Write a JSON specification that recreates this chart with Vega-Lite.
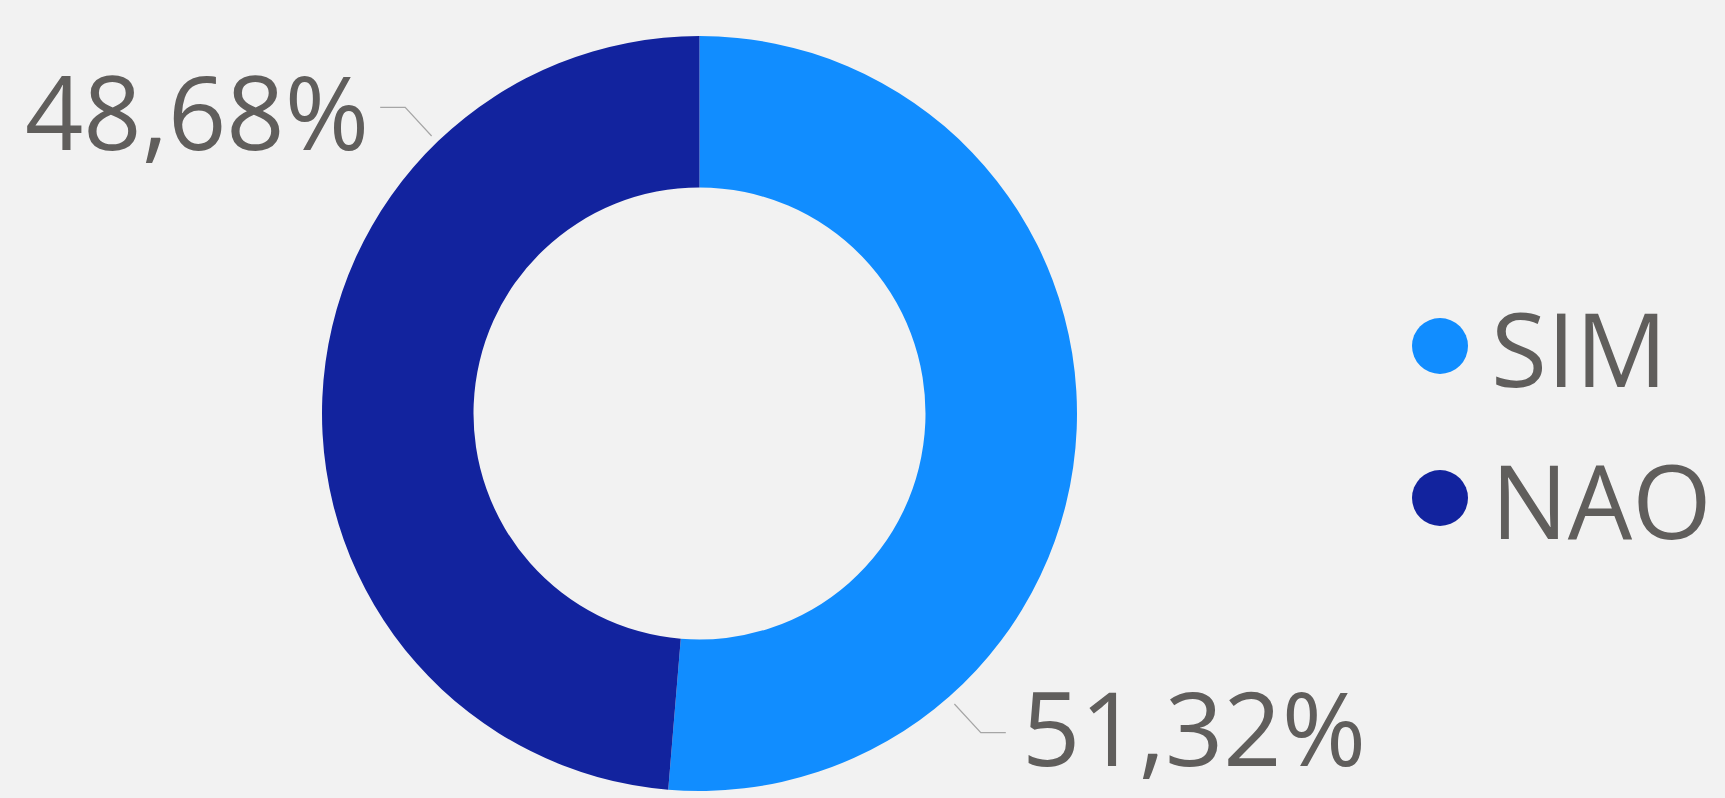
{
  "$schema": "https://vega.github.io/schema/vega-lite/v6.json",
  "width": 1399,
  "height": 769,
  "autosize": {"type": "none"},
  "padding": {"left": 0, "top": 29, "right": 326, "bottom": 0},
  "background": "#F2F2F2",
  "config": {"view": {"stroke": null}, "font": "Open Sans"},
  "data": {"values": [
    {"resposta": "SIM", "pct": 51.32},
    {"resposta": "NAO", "pct": 48.68}
  ]},
  "layer": [
    {
      "mark": {"type": "arc", "innerRadius": 226, "outerRadius": 377.5},
      "encoding": {
        "theta": {"field": "pct", "type": "quantitative", "stack": true},
        "order": {"field": "resposta", "type": "nominal", "sort": "descending"},
        "color": {
          "field": "resposta", "type": "nominal",
          "scale": {"domain": ["SIM", "NAO"], "range": ["#118DFF", "#12239E"]},
          "legend": {
            "title": null, "orient": "none", "legendX": 1389, "legendY": 266,
            "symbolType": "circle", "symbolSize": 3136, "symbolStrokeWidth": 0,
            "labelFontSize": 102, "labelFont": "Open Sans", "labelColor": "#605E5C",
            "labelLimit": 500, "rowPadding": 40, "labelOffset": 0, "padding": 0,
            "encode": {"labels": {"update": {"dy": {"value": 10}}}}
          }
        }
      }
    },
    {
      "mark": {"type": "text", "radius": 586, "fontSize": 102, "font": "Open Sans", "color": "#605E5C", "align": "center", "baseline": "middle", "dx": -4, "dy": 13.5},
      "transform": [{"calculate": "replace(format(datum.pct, '.2f'), '.', ',') + '%'", "as": "label"}],
      "encoding": {
        "theta": {"field": "pct", "type": "quantitative", "stack": true, "scale": {"range": [0.512, 6.7952]}},
        "order": {"field": "resposta", "type": "nominal", "sort": "descending"},
        "text": {"field": "label", "type": "nominal"}
      }
    },
    {
      "mark": {"type": "line", "color": "#A6A6A6", "strokeWidth": 1.2, "clip": false, "xOffset": -6.5, "yOffset": 6.5},
      "transform": [
        {"joinaggregate": [{"op": "sum", "field": "pct", "as": "total"}]},
        {"stack": "pct", "groupby": [], "sort": [{"field": "resposta", "order": "descending"}], "as": ["s0", "s1"]},
        {"calculate": "(datum.s0 + datum.s1) / datum.total * PI + PI / 4", "as": "ang"},
        {"fold": ["s0", "s1", "total"], "as": ["pt", "v"]},
        {"calculate": "indexof(['s0','s1','total'], datum.pt)", "as": "i"},
        {"calculate": "(datum.i == 0 ? 386 : 425) * sin(datum.ang) + (datum.i == 2 ? (sin(datum.ang) > 0 ? 25 : -25) : 0)", "as": "x"},
        {"calculate": "(datum.i == 0 ? 386 : 425) * cos(datum.ang)", "as": "y"}
      ],
      "encoding": {
        "x": {"field": "x", "type": "quantitative", "scale": {"domain": [-699.5, 699.5], "nice": false, "zero": false}, "axis": null},
        "y": {"field": "y", "type": "quantitative", "scale": {"domain": [-384.5, 384.5], "nice": false, "zero": false}, "axis": null},
        "detail": {"field": "resposta", "type": "nominal"},
        "order": {"field": "i", "type": "quantitative"}
      }
    }
  ],
  "resolve": {"scale": {"theta": "independent"}}
}
